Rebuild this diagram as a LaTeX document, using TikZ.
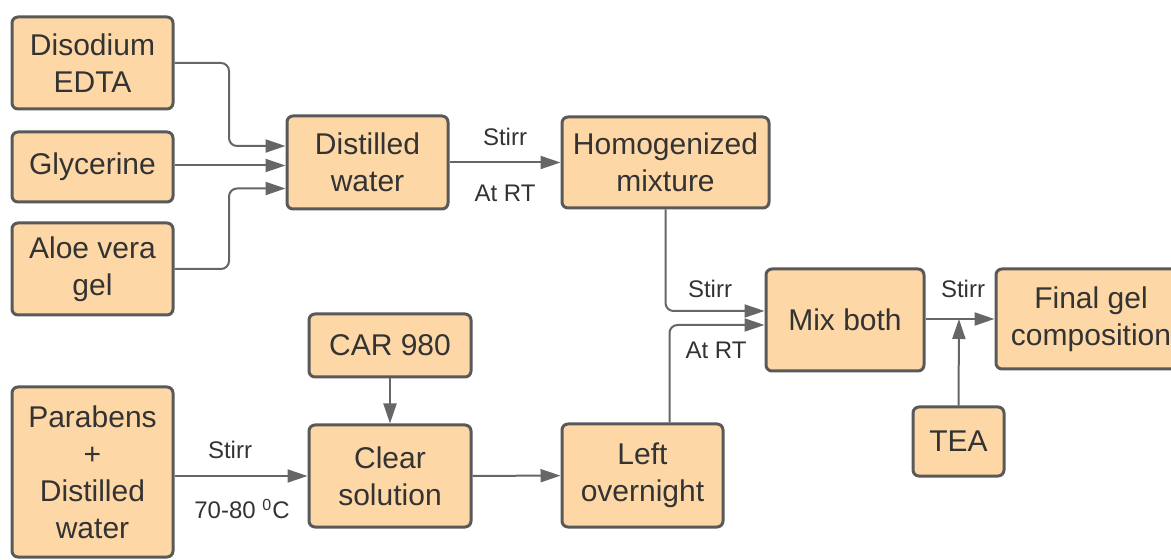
\documentclass[tikz,border=0pt]{standalone}
\usepackage{fontspec}
\setmainfont{Liberation Sans}
\usetikzlibrary{arrows.meta}

\definecolor{boxfill}{HTML}{FDD8A6}
\definecolor{boxline}{HTML}{595959}
\definecolor{arrline}{HTML}{666666}
\definecolor{txt}{HTML}{333333}

\tikzset{
  stage/.style = {draw = boxline, fill = boxfill, line width = 1.5pt, rounded corners = 3pt,
                  inner sep = 0pt, align = center, text = txt,
                  font = \fontsize{15}{18.5}\selectfont},
  arr/.style = {draw = arrline, line width = 1pt, rounded corners = 4pt,
                -{Triangle[length = 10pt, width = 6.5pt]}},
  lbl/.style = {text = txt, inner sep = 0pt, font = \fontsize{12}{14}\selectfont}
}

\begin{document}
\begin{tikzpicture}[x = 0.5pt, y = -0.5pt]
  \useasboundingbox (0, 0) rectangle (1171, 560);
  \clip (0, 0) rectangle (1171, 560);

  \node[stage, minimum width = 80.5pt, minimum height = 46pt] (edta) at (92.5, 63) {Disodium\\EDTA};
  \node[stage, minimum width = 80.5pt, minimum height = 35pt] (glycerine) at (92.5, 167) {Glycerine};
  \node[stage, minimum width = 80.5pt, minimum height = 46pt] (aloe) at (92.5, 269) {Aloe vera\\gel};
  \node[stage, minimum width = 80.5pt, minimum height = 46.5pt] (water) at (367.5, 162.5) {Distilled\\water};
  \node[stage, minimum width = 103.5pt, minimum height = 45.5pt] (homog) at (665.5, 162.5) {Homogenized\\mixture};

  \node[stage, minimum width = 80.5pt, minimum height = 85pt] (parabens) at (92.5, 472) {Parabens\\+\\Distilled\\water};
  \node[stage, minimum width = 81pt, minimum height = 31.5pt] (car) at (390, 345.5) {CAR 980};
  \node[stage, minimum width = 81pt, minimum height = 51pt] (clear) at (390, 476) {Clear\\solution};
  \node[stage, minimum width = 80.5pt, minimum height = 51.5pt] (overnight) at (642.5, 475.5) {Left\\overnight};

  \node[stage, minimum width = 79pt, minimum height = 51pt] (mix) at (845, 320) {Mix both};
  \node[stage, minimum width = 95pt, minimum height = 50pt] (final) at (1091, 319) {Final gel\\composition};
  \node[stage, minimum width = 45.5pt, minimum height = 34.5pt] (tea) at (958.5, 441.5) {TEA};

  % junctions
  \coordinate (split) at (229, 0);
  \coordinate (in1) at ([yshift = 8.25pt]water.west);
  \coordinate (in2) at ([yshift = -1.5pt]water.west);
  \coordinate (in3) at ([yshift = -13pt]water.west);
  \coordinate (join) at (959, 319);

  \draw[arr] (edta.east) -- (edta.east -| split) -- (split |- in1) -- (in1);
  \draw[arr] (glycerine.east |- in2) -- (in2);
  \draw[arr] (aloe.east) -- (aloe.east -| split) -- (split |- in3) -- (in3);

  \draw[arr] (water) -- (homog);
  \node[lbl] (stirr1) at (505, 137) {Stirr};
  \node[lbl] (rt1) at (505, 193) {At RT};

  \draw[arr] (homog.south) |- ([yshift = 4.5pt]mix.west);
  \draw[arr] ([xshift = 13.5pt]overnight.north) |- ([yshift = -2.5pt]mix.west);
  \node[lbl] (stirr2) at (710, 289) {Stirr};
  \node[lbl] (rt2) at (716, 350) {At RT};

  \draw[arr] (mix.east |- final.west) -- (final.west);
  \draw[arr] (tea.north) -- (join);
  \node[lbl] (stirr3) at (963, 289) {Stirr};

  \draw[arr] (car) -- (clear);
  \draw[arr] (parabens.east |- clear.west) -- (clear.west);
  \node[lbl] (stirr4) at (230, 450) {Stirr};
  \node[lbl] (temp) at (242, 509) {70-80 \textsuperscript{0}C};
  \draw[arr] (clear) -- (overnight);
\end{tikzpicture}
\end{document}
